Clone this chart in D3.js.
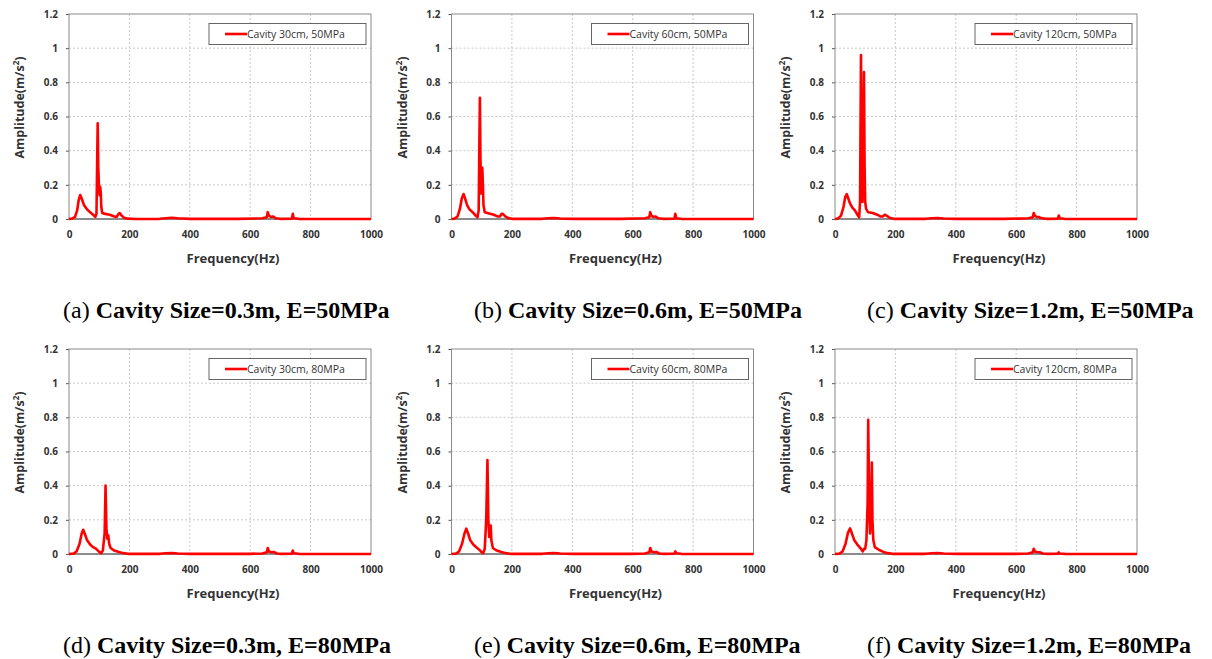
<!DOCTYPE html>
<html>
<meta charset="utf-8">

<style>
    body{
        margin: 0;
        background: #fff;
    }
    svg{
        display: block;
    }
</style>
<body>
<svg width="1212" height="659"></svg>
<script src="https://d3js.org/d3.v7.min.js"></script>
<script>

    // tick values, shared by all six panels
    let xTicks = [0, 200, 400, 600, 800, 1000];
    let yTicks = [0, 0.2, 0.4, 0.6, 0.8, 1, 1.2];

    let legendNames = ["Cavity 30cm, 50MPa", "Cavity 60cm, 50MPa", "Cavity 120cm, 50MPa",
        "Cavity 30cm, 80MPa", "Cavity 60cm, 80MPa", "Cavity 120cm, 80MPa"];
    let captionTags = ["(a)", "(b)", "(c)", "(d)", "(e)", "(f)"];
    let captionTexts = ["Cavity Size=0.3m, E=50MPa", "Cavity Size=0.6m, E=50MPa", "Cavity Size=1.2m, E=50MPa",
        "Cavity Size=0.3m, E=80MPa", "Cavity Size=0.6m, E=80MPa", "Cavity Size=1.2m, E=80MPa"];

    // [frequency Hz, amplitude m/s^2]
    let spec30_50 = [[0,0],[10,0.002],[20,0.012],[27,0.05],[32,0.11],[37,0.14],[42,0.12],[50,0.08],[60,0.055],[70,0.04],[80,0.025],[87,0.012],[91,0.03],[93,0.3],[95,0.56],[97,0.3],[99,0.2],[101,0.14],[103,0.19],[105,0.16],[107,0.07],[110,0.035],[120,0.03],[135,0.025],[150,0.015],[158,0.012],[164,0.03],[168,0.035],[174,0.02],[182,0.008],[195,0.002],[220,0],[300,0.001],[320,0.004],[340,0.007],[360,0.004],[400,0.001],[560,0.001],[640,0.004],[655,0.01],[658,0.04],[662,0.02],[668,0.012],[675,0.015],[685,0.004],[700,0.001],[738,0.002],[741,0.03],[744,0.004],[760,0.001],[1000,0]];
    let spec60_50 = [[0,0],[10,0.002],[20,0.015],[28,0.06],[34,0.12],[40,0.146],[45,0.12],[52,0.08],[60,0.055],[70,0.04],[80,0.02],[86,0.01],[90,0.05],[92,0.4],[94,0.71],[96,0.35],[98,0.15],[100,0.2],[102,0.3],[104,0.2],[106,0.08],[110,0.04],[125,0.032],[140,0.025],[152,0.015],[160,0.015],[166,0.03],[170,0.03],[178,0.015],[188,0.005],[200,0.001],[300,0.001],[320,0.004],[340,0.006],[360,0.003],[400,0.001],[560,0.001],[640,0.004],[655,0.01],[658,0.04],[662,0.02],[668,0.012],[675,0.015],[685,0.004],[700,0.001],[738,0.002],[741,0.03],[744,0.004],[760,0.001],[1000,0]];
    let spec120_50 = [[0,0],[10,0.003],[20,0.02],[28,0.07],[34,0.13],[39,0.146],[44,0.12],[50,0.09],[58,0.065],[66,0.05],[74,0.025],[80,0.01],[83,0.1],[86,0.96],[88,0.4],[91,0.1],[93,0.3],[96,0.86],[98,0.3],[100,0.1],[103,0.06],[106,0.05],[110,0.04],[125,0.035],[140,0.025],[150,0.015],[158,0.015],[165,0.025],[172,0.018],[182,0.006],[195,0.001],[300,0.001],[320,0.004],[340,0.006],[360,0.003],[400,0.001],[560,0.001],[640,0.004],[655,0.01],[658,0.035],[662,0.018],[668,0.012],[675,0.012],[685,0.004],[700,0.001],[738,0.002],[741,0.02],[744,0.004],[760,0.001],[1000,0]];
    let spec30_80 = [[0,0],[15,0.002],[25,0.015],[35,0.06],[42,0.12],[47,0.142],[52,0.12],[60,0.08],[70,0.055],[80,0.04],[90,0.03],[100,0.012],[106,0.005],[112,0.02],[118,0.12],[121,0.4],[124,0.15],[127,0.09],[130,0.11],[133,0.06],[138,0.035],[150,0.02],[165,0.012],[180,0.005],[195,0.001],[300,0.001],[320,0.004],[340,0.006],[360,0.003],[400,0.001],[600,0.001],[640,0.003],[655,0.01],[658,0.035],[662,0.015],[670,0.01],[678,0.012],[688,0.003],[700,0.001],[738,0.002],[741,0.02],[744,0.004],[760,0.001],[1000,0]];
    let spec60_80 = [[0,0],[15,0.002],[25,0.015],[35,0.06],[43,0.12],[49,0.148],[55,0.12],[62,0.08],[72,0.055],[82,0.04],[92,0.025],[100,0.01],[105,0.005],[110,0.03],[115,0.2],[119,0.55],[122,0.2],[125,0.1],[128,0.12],[130,0.167],[132,0.08],[137,0.035],[150,0.02],[165,0.012],[180,0.005],[195,0.001],[300,0.001],[320,0.004],[340,0.006],[360,0.003],[400,0.001],[600,0.001],[640,0.003],[655,0.01],[658,0.035],[662,0.015],[670,0.01],[678,0.012],[688,0.003],[700,0.001],[738,0.002],[741,0.015],[744,0.004],[760,0.001],[1000,0]];
    let spec120_80 = [[0,0],[15,0.002],[25,0.015],[35,0.06],[43,0.125],[50,0.15],[56,0.12],[64,0.08],[74,0.055],[84,0.035],[92,0.015],[96,0.03],[100,0.03],[104,0.08],[108,0.3],[110,0.785],[113,0.3],[116,0.12],[119,0.2],[122,0.535],[124,0.2],[127,0.08],[132,0.04],[145,0.025],[160,0.012],[175,0.005],[190,0.001],[300,0.001],[320,0.004],[340,0.006],[360,0.003],[400,0.001],[600,0.001],[640,0.003],[655,0.01],[658,0.03],[662,0.015],[670,0.01],[678,0.01],[688,0.003],[700,0.001],[738,0.002],[741,0.01],[744,0.003],[760,0.001],[1000,0]];

    let spectra = [spec30_50, spec60_50, spec120_50, spec30_80, spec60_80, spec120_80];

    let svg = d3.select("svg"),
        colLeft = [69, 451.5, 835],
        rowTop = [14, 349],
        width = 302,
        height = 205,
        captionX = [63, 474, 867],
        captionY = [318, 653];

    let x = d3.scaleLinear().domain([0, 1000]).range([0, width]);
    let y = d3.scaleLinear().domain([0, 1.2]).range([height, 0]);
    let fmt = d3.format("~g");

    let line = d3.line()
        .x(function (d) { return x(d[0]); })
        .y(function (d) { return y(d[1]); });

    spectra.forEach(function (data, i) {
        let col = i % 3, row = Math.floor(i / 3);
        let g = svg.append("g")
            .attr("transform", "translate(" + colLeft[col] + "," + rowTop[row] + ")");

        // dotted grid
        g.append("g")
            .selectAll("line")
            .data(yTicks.slice(1, -1))
            .enter().append("line")
            .attr("x1", 0).attr("x2", width)
            .attr("y1", function (d) { return y(d); })
            .attr("y2", function (d) { return y(d); })
            .attr("stroke", "#c8c8c8")
            .attr("stroke-dasharray", "2,2");
        g.append("g")
            .selectAll("line")
            .data(xTicks.slice(1, -1))
            .enter().append("line")
            .attr("y1", 0).attr("y2", height)
            .attr("x1", function (d) { return x(d); })
            .attr("x2", function (d) { return x(d); })
            .attr("stroke", "#c8c8c8")
            .attr("stroke-dasharray", "2,2");

        // axes
        let ax = g.append("g")
            .attr("transform", "translate(0," + height + ")")
            .call(d3.axisBottom(x).tickValues(xTicks).tickSize(0).tickPadding(12).tickFormat(fmt));
        let ay = g.append("g")
            .call(d3.axisLeft(y).tickValues(yTicks).tickSize(3).tickPadding(8).tickFormat(fmt));
        [ax, ay].forEach(function (a) {
            a.select(".domain").remove();
            a.selectAll("line").attr("stroke", "#555");
            a.selectAll("text")
                .attr("font-family", "Open Sans, sans-serif")
                .attr("font-size", 10)
                .attr("font-weight", "bold")
                .attr("fill", "#333");
        });

        // zero line and plot frame
        g.append("line")
            .attr("x1", 0).attr("x2", width)
            .attr("y1", y(0)).attr("y2", y(0))
            .attr("stroke", "#666")
            .attr("stroke-width", 1.5);
        g.append("rect")
            .attr("width", width)
            .attr("height", height)
            .attr("fill", "none")
            .attr("stroke", "#8a8a8a");

        g.append("path")
            .datum(data)
            .attr("fill", "none")
            .attr("stroke", "#ff0000")
            .attr("stroke-width", 2.6)
            .attr("stroke-linejoin", "round")
            .attr("d", line);

        // legend
        let lg = g.append("g")
            .attr("transform", "translate(" + (width - 162) + "," + 9.5 + ")");
        lg.append("rect")
            .attr("width", 157)
            .attr("height", 21)
            .attr("fill", "#fff")
            .attr("stroke", "#666");
        lg.append("line")
            .attr("x1", 16).attr("x2", 38)
            .attr("y1", 10.5).attr("y2", 10.5)
            .attr("stroke", "#ff0000")
            .attr("stroke-width", 2.6);
        lg.append("text")
            .attr("x", 38)
            .attr("y", 10.5)
            .attr("dy", "0.35em")
            .attr("font-family", "Open Sans, sans-serif")
            .attr("font-size", 10.5)
            .attr("fill", "#333")
            .text(legendNames[i]);

        // axis titles
        g.append("text")
            .attr("x", width / 2 + 13)
            .attr("y", height + 44)
            .attr("text-anchor", "middle")
            .attr("font-family", "Open Sans, sans-serif")
            .attr("font-size", 13)
            .attr("font-weight", "bold")
            .attr("fill", "#333")
            .text("Frequency(Hz)");
        let yt = g.append("text")
            .attr("transform", "translate(-45," + (height / 2 - 9) + ") rotate(-90)")
            .attr("text-anchor", "middle")
            .attr("font-family", "Open Sans, sans-serif")
            .attr("font-size", 12.5)
            .attr("font-weight", "bold")
            .attr("fill", "#333");
        yt.append("tspan").text("Amplitude(m/s");
        yt.append("tspan").attr("font-size", 8).attr("dy", -5).text("2");
        yt.append("tspan").attr("dy", 5).text(")");

        // caption under the panel
        let cap = svg.append("text")
            .attr("x", captionX[col])
            .attr("y", captionY[row])
            .attr("font-family", "Liberation Serif, Times New Roman, serif")
            .attr("font-size", 24)
            .attr("fill", "#000");
        cap.append("tspan").text(captionTags[i] + " ");
        cap.append("tspan").attr("font-weight", "bold").text(captionTexts[i]);
    });

</script>
</body>

</html>
